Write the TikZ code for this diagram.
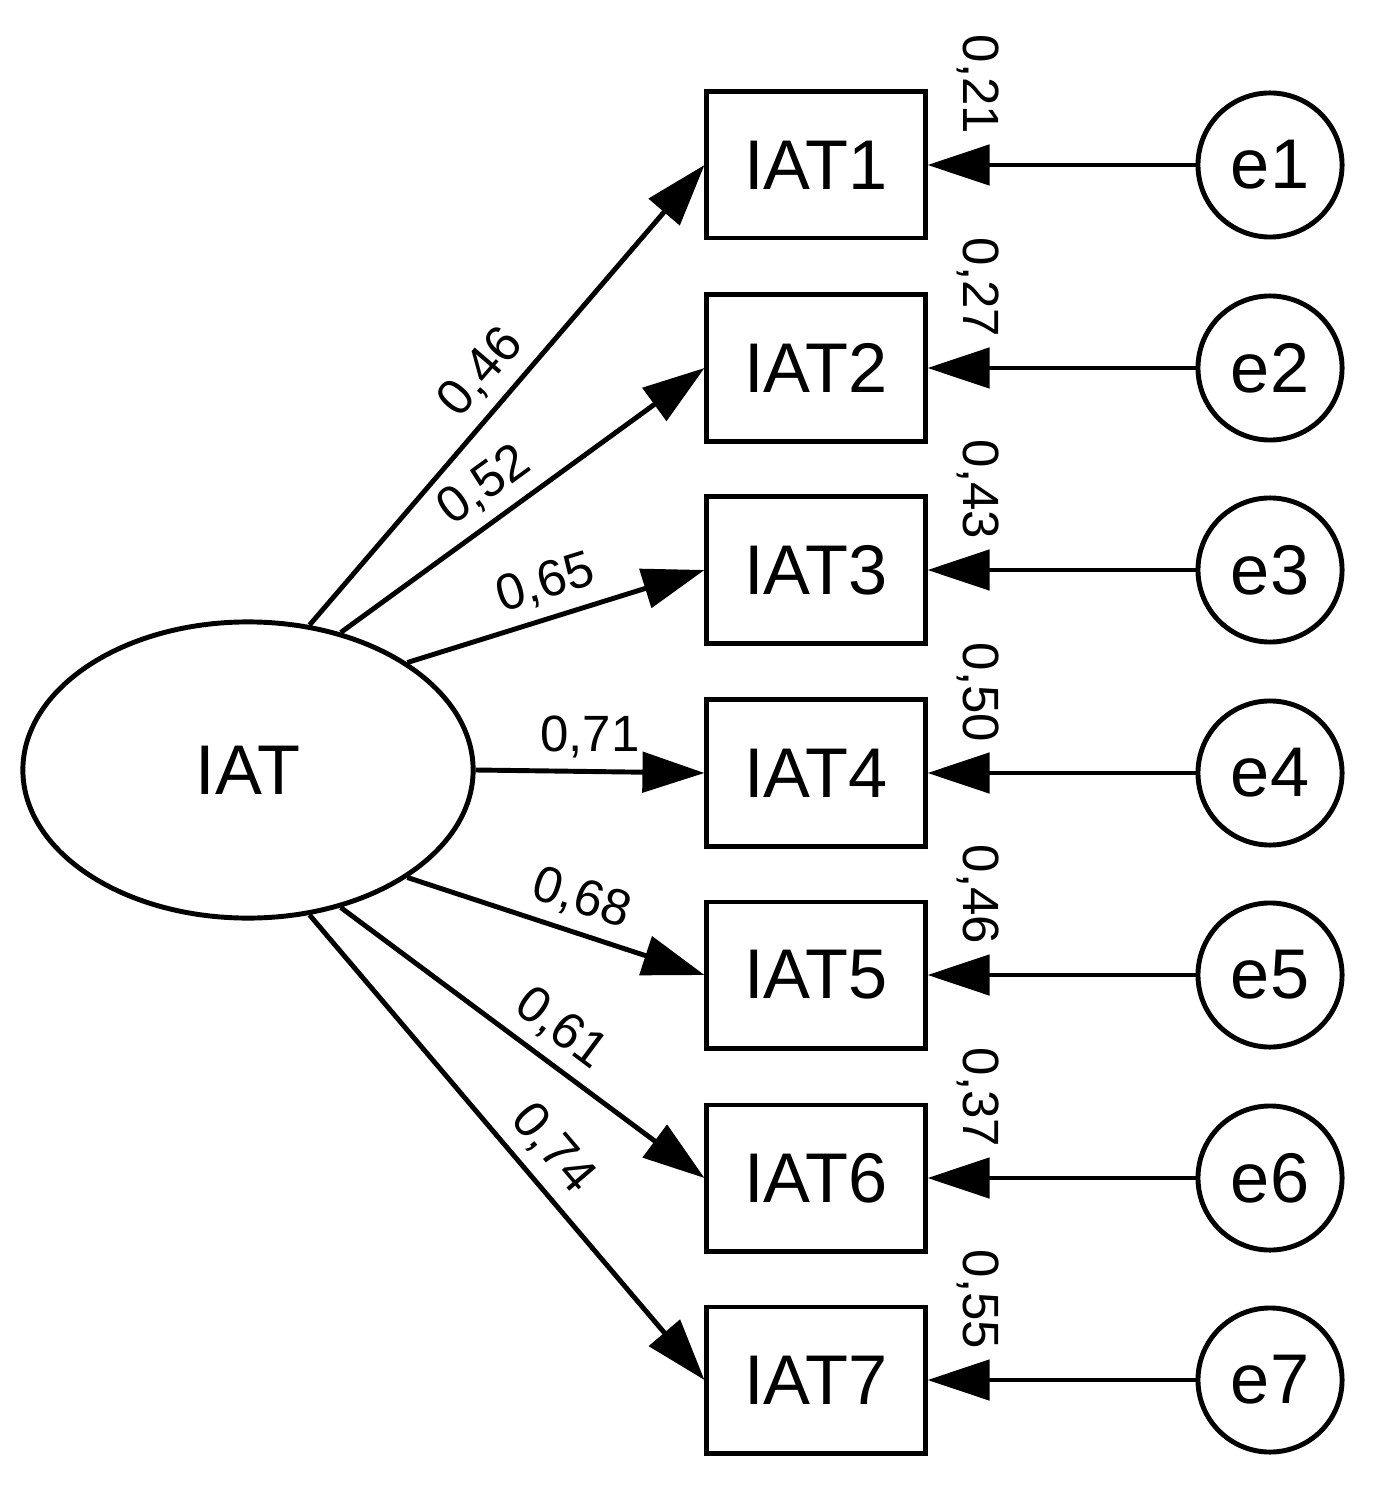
\documentclass[tikz,border=0pt]{standalone}
\usepackage{fontspec}
\setmainfont{Liberation Sans}
\usetikzlibrary{arrows.meta,calc,shapes.geometric}
\begin{document}
\begin{tikzpicture}[x=0.01cm,y=-0.01cm,
  box/.style={draw,line width=1.4pt,minimum width=2.18cm,minimum height=1.46cm,inner sep=0pt,font=\fontsize{20}{22}\selectfont},
  err/.style={draw,circle,line width=1.4pt,minimum size=1.44cm,inner sep=0pt,font=\fontsize{20}{22}\selectfont},
  arr/.style={line width=1.4pt,-{Triangle[length=0.62cm,width=0.4cm]}},
  lab/.style={font=\fontsize{14.5}{16}\selectfont,inner sep=3pt},
  vlab/.style={font=\fontsize{14.5}{16}\selectfont,rotate=-90,inner sep=0pt}]
\useasboundingbox (0,0) rectangle (1381,1492);
\node[draw,ellipse,line width=1.4pt,minimum width=4.5cm,minimum height=2.96cm,font=\fontsize{20}{22}\selectfont] (L) at (248,770) {IAT};
\foreach \i/\y/\v in {1/165/{0,21}, 2/368/{0,27}, 3/570/{0,43}, 4/773/{0,50}, 5/975/{0,46}, 6/1178/{0,37}, 7/1380/{0,55}}{
  \node[box] (b\i) at (816,\y) {IAT\i};
  \node[err] (e\i) at (1270,\y) {e\i};
  \draw[arr] (e\i) -- (b\i);
  \node[vlab] at ($(b\i.north east)+(50,-5)$) {\v};
}
\draw[arr] (L.67) -- node[lab,sloped,above,pos=0.5]{0,46} (b1.west);
\draw[arr] (L.56) -- node[lab,sloped,above,pos=0.45]{0,52} (b2.west);
\draw[arr] (L.34) -- node[lab,sloped,above,pos=0.5]{0,65} (b3.west);
\draw[arr] (L.east) -- node[lab,above,pos=0.5]{0,71} (b4.west);
\draw[arr] (L.-34) -- node[lab,sloped,above,pos=0.55]{0,68} (b5.west);
\draw[arr] (L.-56) -- node[lab,sloped,above,pos=0.55]{0,61} (b6.west);
\draw[arr] (L.-67) -- node[lab,sloped,above,pos=0.55]{0,74} (b7.west);
\end{tikzpicture}
\end{document}
